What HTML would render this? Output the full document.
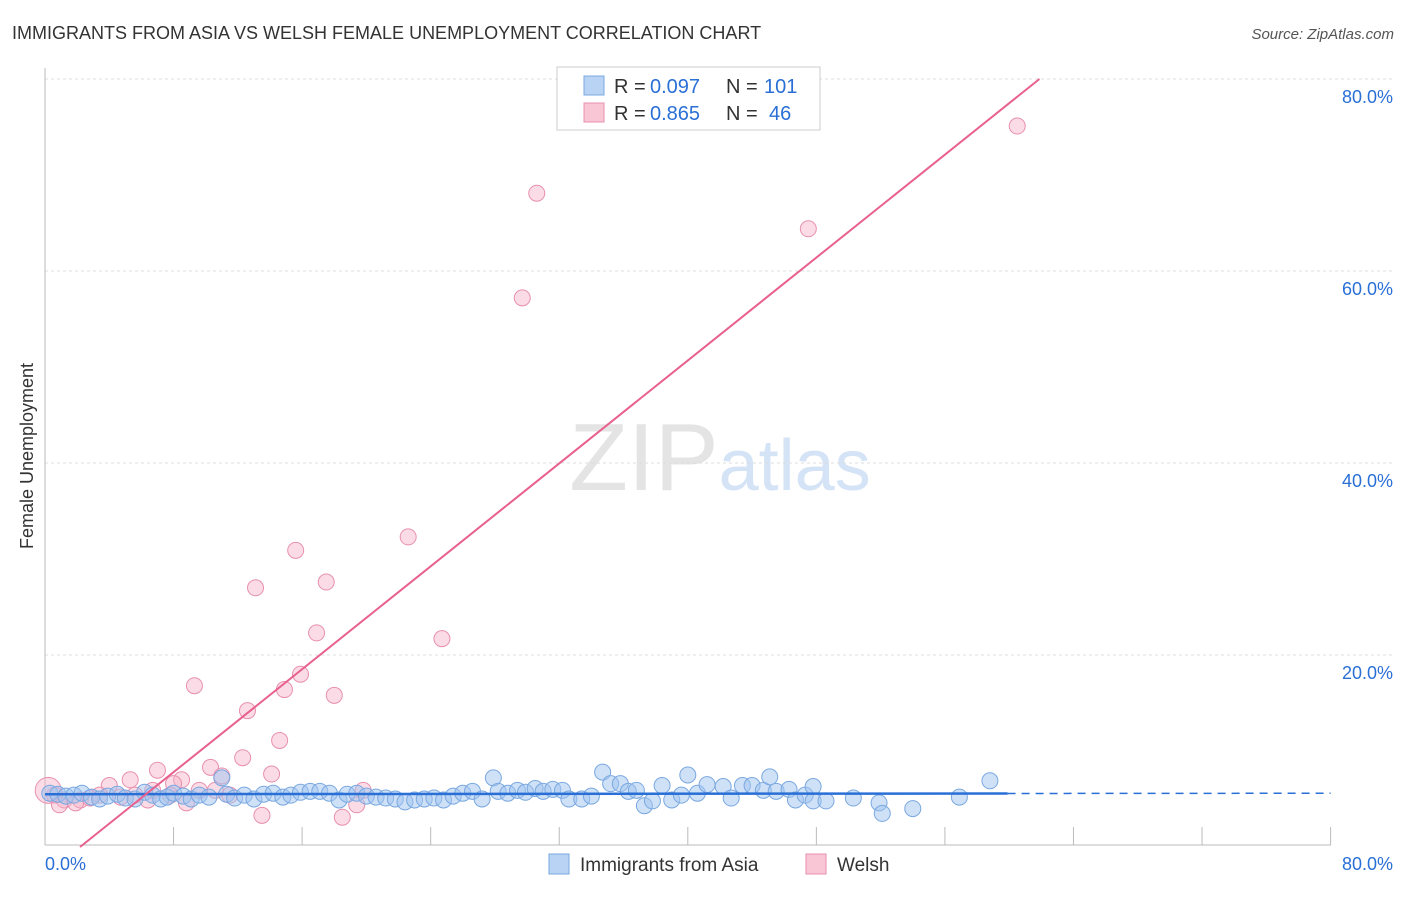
<!DOCTYPE html>
<html><head><meta charset="utf-8"><style>
body{margin:0;background:#fff;font-family:"Liberation Sans",sans-serif;}
svg text{font-family:"Liberation Sans",sans-serif;}
</style></head><body>
<svg id="chart" width="1406" height="892" xmlns="http://www.w3.org/2000/svg">
<text x="12" y="39" font-size="18" fill="#333">IMMIGRANTS FROM ASIA VS WELSH FEMALE UNEMPLOYMENT CORRELATION CHART</text>
<text x="1394" y="39" font-size="15" fill="#555" text-anchor="end" font-style="italic">Source: ZipAtlas.com</text>
<text x="720" y="490" font-size="96" text-anchor="middle" fill="#e4e4e4" font-family="Liberation Serif"><tspan>ZIP</tspan><tspan fill="#d4e3f6" font-family="Liberation Sans" font-size="72">atlas</tspan></text>
<text transform="translate(33,456) rotate(-90)" font-size="18" fill="#333" text-anchor="middle">Female Unemployment</text>
<g id="grid"></g><g id="axes"></g><g id="marks"></g>
<g>
<rect x="557" y="67" width="263" height="63" fill="#fff" stroke="#ccc"/>
<rect x="584" y="76" width="20" height="19" fill="#b9d3f5" stroke="#7aa8e0"/>
<rect x="584" y="103" width="20" height="19" fill="#f9c6d6" stroke="#e890ae"/>
<text x="614" y="93" font-size="20" fill="#333">R =</text>
<text x="650" y="93" font-size="20" fill="#2a6fd6">0.097</text>
<text x="726" y="93" font-size="20" fill="#333">N =</text>
<text x="764" y="93" font-size="20" fill="#2a6fd6">101</text>
<text x="614" y="120" font-size="20" fill="#333">R =</text>
<text x="650" y="120" font-size="20" fill="#2a6fd6">0.865</text>
<text x="726" y="120" font-size="20" fill="#333">N =</text>
<text x="769" y="120" font-size="20" fill="#2a6fd6">46</text>
</g>
<g>
<rect x="549" y="854" width="20" height="20" fill="#b9d3f5" stroke="#7aa8e0"/>
<text x="580" y="871" font-size="19" fill="#333">Immigrants from Asia</text>
<rect x="806" y="854" width="20" height="20" fill="#f9c6d6" stroke="#e890ae"/>
<text x="837" y="871" font-size="19" fill="#333">Welsh</text>
</g>
</svg>
<script>
const yTicks=[20,40,60,80];
const yTickLabels=["20.0%","40.0%","60.0%","80.0%"];
const xTickLabels=["0.0%","80.0%"];
const blueX=[0.3,0.8,1.3,1.8,2.3,2.9,3.4,3.9,4.5,5.0,5.6,6.2,6.7,7.2,7.6,8.0,8.6,9.1,9.6,10.2,11.0,11.3,11.8,12.4,13.0,13.6,14.2,14.8,15.3,15.9,16.5,17.1,17.7,18.3,18.8,19.4,20.0,20.6,21.2,21.8,22.4,23.0,23.6,24.2,24.8,25.4,26.0,26.6,27.2,27.9,28.2,28.8,29.4,29.9,30.5,31.0,31.6,32.2,32.6,33.4,34.0,34.7,35.2,35.8,36.3,36.8,37.3,37.8,38.4,39.0,39.6,40.0,40.6,41.2,42.2,42.7,43.4,44.0,44.7,45.1,45.5,46.3,46.7,47.3,47.8,47.8,48.6,50.3,51.9,52.1,54.0,56.9,58.8];
const blueY=[5.6,5.5,5.3,5.4,5.6,5.2,5.0,5.3,5.5,5.1,5.0,5.7,5.4,5.0,5.2,5.6,5.3,5.0,5.4,5.2,7.2,5.5,5.1,5.4,5.0,5.5,5.6,5.2,5.4,5.7,5.8,5.8,5.6,4.9,5.5,5.6,5.3,5.2,5.1,5.0,4.7,4.9,5.0,5.1,4.9,5.3,5.6,5.8,5.0,7.2,5.8,5.6,5.9,5.7,6.1,5.8,6.0,5.9,5.0,5.0,5.3,7.8,6.6,6.6,5.8,5.9,4.3,4.8,6.4,4.9,5.4,7.5,5.6,6.5,6.3,5.1,6.4,6.4,5.9,7.3,5.8,6.0,4.9,5.4,4.8,6.3,4.8,5.1,4.6,3.5,4.0,5.2,6.9];
const pinkX=[30.6,29.7,60.5,47.5,22.6,15.6,13.1,17.5,16.9,24.7,9.3,14.9,15.9,18.0,12.6,14.6,12.3,10.3,14.1,7.0,11.0,8.5,5.3,8.0,4.0,6.7,5.6,9.6,11.5,13.5,18.5,19.4,19.8,8.8,2.2,1.2,0.6,2.8,3.4,4.7,6.4,0.2,0.9,1.9,7.8,10.6];
const pinkY=[68.1,57.2,75.1,64.4,32.3,30.9,27.0,27.6,22.3,21.7,16.8,16.4,18.0,15.8,14.2,11.1,9.3,8.3,7.6,8.0,7.4,7.0,7.0,6.6,6.4,5.9,5.4,5.9,5.4,3.3,3.1,4.4,5.9,4.6,4.9,4.9,5.4,5.1,5.4,5.2,4.9,5.9,4.4,4.6,5.4,5.9];
const blueFit=[5.5,5.6];
const pinkFit=[2.18,1.34];
const X=v=>45+v*16.07, Y=v=>847-v*9.6;
const NS="http://www.w3.org/2000/svg";
function mk(tag,attrs,parent){const e=document.createElementNS(NS,tag);for(const k in attrs)e.setAttribute(k,attrs[k]);document.getElementById(parent).appendChild(e);return e;}
yTicks.forEach((t,i)=>{
 const g=mk('line',{x1:45,x2:1394,y1:Y(t),y2:Y(t),stroke:'#ddd','stroke-dasharray':'3,3'},'grid');
 
 
 const l=mk('text',{x:1393,y:Y(t)+24,'font-size':18,fill:'#2a6fd6','text-anchor':'end'},'axes');
 l.textContent=yTickLabels[i];
 
 
});
const ax=mk('line',{x1:45,x2:1331,y1:845,y2:845,stroke:'#bbb'},'axes');


const ay=mk('line',{x1:45,x2:45,y1:68,y2:845,stroke:'#bbb'},'axes');


for(let i=0;i<=10;i++){const t=mk('line',{x1:X(i*8),x2:X(i*8),y1:827,y2:845,stroke:'#bbb'},'axes');
 
 }
[[0,'start',45],[80,'end',1393]].forEach((d,i)=>{const l=mk('text',{x:d[2],y:870,'font-size':18,fill:'#2a6fd6','text-anchor':d[1]},'axes');
 l.textContent=xTickLabels[i];
 
 });
pinkX.forEach((x,i)=>{const c=mk('circle',{cx:X(x),cy:Y(pinkY[i]),r:i==41?13:8,fill:'rgba(246,178,200,0.45)',stroke:'#e890ae','stroke-width':1},'marks');
 
 });
blueX.forEach((x,i)=>{const c=mk('circle',{cx:X(x),cy:Y(blueY[i]),r:8,fill:'rgba(160,195,240,0.5)',stroke:'#7aa8e0','stroke-width':1},'marks');
 
 });
const bf=v=>blueFit[0]+(blueFit[1]-blueFit[0])*v/80;
const b1=mk('line',{x1:X(0),y1:Y(bf(0)),x2:X(59.9),y2:Y(bf(59.9)),stroke:'#2a6fd6','stroke-width':2.5},'marks');


const b2=mk('line',{x1:X(59.9),y1:Y(bf(59.9)),x2:X(80),y2:Y(bf(80)),stroke:'#2a6fd6','stroke-width':1.5,'stroke-dasharray':'8,6'},'marks');


const pf=v=>pinkFit[1]*(v-pinkFit[0]);
const xEnd=pinkFit[0]+80/pinkFit[1];
const p=mk('line',{x1:X(pinkFit[0]),y1:Y(0),x2:X(xEnd),y2:Y(pf(xEnd)),stroke:'#e8608e','stroke-width':2},'marks');


</script>
</body></html>
